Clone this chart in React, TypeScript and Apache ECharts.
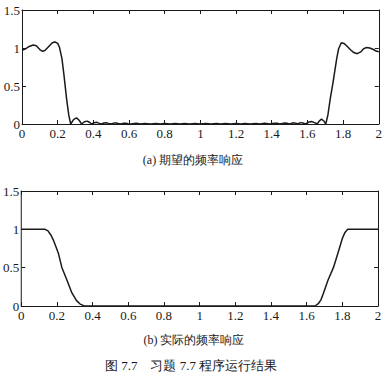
import React, { useEffect, useRef } from "react";
import * as echarts from "echarts";

const xTicks = [0, 0.2, 0.4, 0.6, 0.8, 1, 1.2, 1.4, 1.6, 1.8, 2];
const yTicks = [0, 0.5, 1, 1.5];

const captionA = "(a) 期望的频率响应";
const captionB = "(b) 实际的频率响应";
const figureCaption = "图 7.7    习题 7.7 程序运行结果";

// (a) desired frequency response: [ω/π, |H|]
const desiredResponse: [number, number][] = [
  [0, 0.97], [0.02, 0.99], [0.04, 1.02], [0.063, 1.04], [0.08, 1.03], [0.1, 0.98],
  [0.116, 0.955], [0.13, 0.97], [0.15, 1.02], [0.17, 1.07], [0.185, 1.08], [0.2, 1.06],
  [0.21, 1.01], [0.224, 0.86], [0.235, 0.65], [0.25, 0.33], [0.262, 0.12], [0.273, 0.0],
  [0.29, 0.06], [0.306, 0.08], [0.32, 0.05], [0.334, 0.0], [0.35, 0.03], [0.366, 0.038],
  [0.38, 0.02], [0.39, 0.0], [0.405, 0.018], [0.418, 0.022], [0.43, 0.012], [0.445, 0.0],
  [0.46, 0.014], [0.472, 0.016], [0.485, 0.008], [0.5, 0.0], [0.515, 0.012], [0.527, 0.013],
  [0.54, 0.006], [0.555, 0.0], [0.57, 0.01], [0.582, 0.011], [0.595, 0.004], [0.61, 0.0],
  [0.64, 0.009], [0.665, 0.0], [0.69, 0.008], [0.72, 0.0], [0.75, 0.007], [0.775, 0.0],
  [0.8, 0.006], [0.83, 0.0], [0.86, 0.006], [0.885, 0.0], [0.91, 0.005], [0.94, 0.0],
  [0.97, 0.005], [1.0, 0.0], [1.03, 0.005], [1.06, 0.0], [1.09, 0.005], [1.115, 0.0],
  [1.14, 0.006], [1.17, 0.0], [1.2, 0.006], [1.225, 0.0], [1.25, 0.007], [1.28, 0.0],
  [1.31, 0.008], [1.335, 0.0], [1.36, 0.009], [1.39, 0.0], [1.405, 0.006], [1.418, 0.011],
  [1.43, 0.01], [1.445, 0.0], [1.46, 0.008], [1.473, 0.013], [1.485, 0.011], [1.5, 0.0],
  [1.513, 0.01], [1.525, 0.015], [1.535, 0.01], [1.545, 0.0], [1.557, 0.014], [1.567, 0.018],
  [1.578, 0.01], [1.59, 0.0], [1.605, 0.022], [1.623, 0.032], [1.64, 0.018], [1.655, 0.0],
  [1.665, 0.035], [1.679, 0.065], [1.692, 0.04], [1.703, 0.0], [1.715, 0.12], [1.728, 0.33],
  [1.744, 0.55], [1.755, 0.72], [1.765, 0.87], [1.775, 0.99], [1.79, 1.07], [1.805, 1.06],
  [1.82, 1.03], [1.84, 0.98], [1.86, 0.94], [1.879, 0.925], [1.9, 0.95], [1.915, 0.99],
  [1.93, 1.005], [1.95, 1.0], [1.97, 0.98], [1.985, 0.96], [2.0, 0.95],
];

// (b) actual frequency response: [ω/π, |H|]
const actualResponse: [number, number][] = [
  [0, 1], [0.05, 1], [0.1, 1], [0.134, 1], [0.15, 0.98], [0.165, 0.93], [0.181, 0.855],
  [0.195, 0.77], [0.209, 0.68], [0.228, 0.5], [0.256, 0.34], [0.284, 0.17], [0.31, 0.07],
  [0.33, 0.025], [0.35, 0.005], [0.36, 0], [0.5, 0], [0.8, 0], [1.0, 0], [1.2, 0],
  [1.5, 0], [1.647, 0], [1.665, 0.03], [1.68, 0.08], [1.694, 0.165], [1.72, 0.34],
  [1.75, 0.5], [1.77, 0.65], [1.787, 0.78], [1.8, 0.88], [1.815, 0.96], [1.83, 1.0],
  [1.9, 1], [2, 1],
];

const INK = "#1a1a1a";
const SERIF = "serif";

export default function App() {
  const ref = useRef<HTMLDivElement>(null);

  useEffect(() => {
    document.body.style.margin = "0";
    if (!ref.current) return;
    const chart = echarts.init(ref.current, undefined, { renderer: "svg" });

    const fmt = (v: number) => String(Number(v.toFixed(2)));
    const xBase = (grid: number, pos: "bottom" | "top") => ({
      type: "value" as const,
      gridIndex: grid,
      position: pos,
      min: xTicks[0],
      max: xTicks[xTicks.length - 1],
      interval: 0.2,
      axisLine: { show: true, onZero: false, lineStyle: { color: INK, width: 1 } },
      axisTick: { show: true, inside: true, length: 4, lineStyle: { color: INK } },
      axisLabel: {
        show: pos === "bottom",
        margin: 3,
        color: INK,
        fontFamily: SERIF,
        fontSize: 13,
        formatter: fmt,
      },
      splitLine: { show: false },
    });
    const yBase = (grid: number, pos: "left" | "right") => ({
      type: "value" as const,
      gridIndex: grid,
      position: pos,
      min: yTicks[0],
      max: yTicks[yTicks.length - 1],
      interval: 0.5,
      axisLine: { show: true, onZero: false, lineStyle: { color: INK, width: 1 } },
      axisTick: { show: true, inside: true, length: 4, lineStyle: { color: INK } },
      axisLabel: {
        show: pos === "left",
        margin: 2,
        color: INK,
        fontFamily: SERIF,
        fontSize: 13,
        formatter: fmt,
      },
      splitLine: { show: false },
    });

    chart.setOption({
      animation: false,
      backgroundColor: "#ffffff",
      grid: [
        { left: 22, top: 10, width: 357, height: 114 },
        { left: 21, top: 191, width: 357, height: 115 },
      ],
      xAxis: [xBase(0, "bottom"), xBase(0, "top"), xBase(1, "bottom"), xBase(1, "top")],
      yAxis: [yBase(0, "left"), yBase(0, "right"), yBase(1, "left"), yBase(1, "right")],
      series: [
        {
          type: "line",
          xAxisIndex: 0,
          yAxisIndex: 0,
          data: desiredResponse,
          showSymbol: false,
          lineStyle: { color: INK, width: 1.5 },
        },
        {
          type: "line",
          xAxisIndex: 2,
          yAxisIndex: 2,
          data: actualResponse,
          showSymbol: false,
          lineStyle: { color: INK, width: 1.5 },
        },
      ],
      graphic: [
        {
          type: "text",
          x: 193,
          y: 160,
          style: {
            text: captionA,
            fill: INK,
            fontFamily: SERIF,
            fontSize: 12,
            textAlign: "center",
            textVerticalAlign: "middle",
          },
        },
        {
          type: "text",
          x: 194,
          y: 340,
          style: {
            text: captionB,
            fill: INK,
            fontFamily: SERIF,
            fontSize: 12,
            textAlign: "center",
            textVerticalAlign: "middle",
          },
        },
        {
          type: "text",
          x: 191,
          y: 365,
          style: {
            text: figureCaption,
            fill: INK,
            fontFamily: SERIF,
            fontSize: 13,
            textAlign: "center",
            textVerticalAlign: "middle",
          },
        },
      ],
    });

    return () => chart.dispose();
  }, []);

  return (
    <div
      ref={ref}
      style={{ position: "absolute", left: 0, top: 0, width: 385, height: 377 }}
    />
  );
}
